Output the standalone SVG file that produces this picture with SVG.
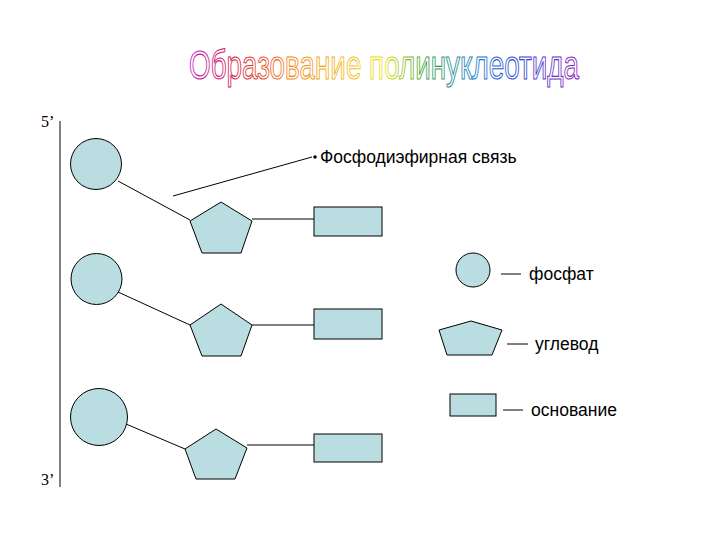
<svg xmlns="http://www.w3.org/2000/svg" width="720" height="540" viewBox="0 0 720 540">
<style>
.shape{fill:#b9dde1;stroke:#000;stroke-width:1}
.ln{stroke:#000;stroke-width:1;fill:none}
.lbl{font-family:"Liberation Sans",Arial,sans-serif;font-size:17.5px;fill:#000}
.end{font-family:"Liberation Serif","Times New Roman",serif;font-size:16px;fill:#000}
.title{font-family:"Liberation Sans",Arial,sans-serif;font-size:40px;fill:#fff;stroke:url(#rainbow);stroke-width:1.1}
</style>
<defs>
<linearGradient id="rainbow" gradientUnits="userSpaceOnUse" x1="189" y1="0" x2="580" y2="0">
<stop offset="0" stop-color="#c020c0"/>
<stop offset="0.12" stop-color="#d02040"/>
<stop offset="0.25" stop-color="#f08020"/>
<stop offset="0.42" stop-color="#f0c020"/>
<stop offset="0.5" stop-color="#e8e020"/>
<stop offset="0.6" stop-color="#40a040"/>
<stop offset="0.72" stop-color="#2080c0"/>
<stop offset="0.85" stop-color="#3040d0"/>
<stop offset="1" stop-color="#9020b0"/>
</linearGradient>
</defs>
<rect width="720" height="540" fill="#fff"/>
<g id="title">
<text class="title" x="189" y="79" textLength="390" lengthAdjust="spacingAndGlyphs">Образование полинуклеотида</text>
</g>
<g id="connectors">
<line class="ln" x1="60" y1="121" x2="60" y2="487"/>
<line class="ln" x1="118" y1="181" x2="190" y2="220"/>
<line class="ln" x1="252" y1="219" x2="314" y2="219"/>
<line class="ln" x1="118" y1="292" x2="190" y2="325"/>
<line class="ln" x1="252" y1="325" x2="314" y2="325"/>
<line class="ln" x1="126" y1="424" x2="185" y2="449"/>
<line class="ln" x1="247" y1="445" x2="314" y2="445"/>
<line class="ln" x1="173" y1="196" x2="312" y2="157"/>
<line class="ln" x1="501" y1="274" x2="521" y2="274"/>
<line class="ln" x1="507" y1="344" x2="528" y2="344"/>
<line class="ln" x1="503" y1="410" x2="523" y2="410"/>
</g>
<g id="label-5"><text class="end" x="41" y="127">5’</text></g>
<g id="label-3"><text class="end" x="41" y="485">3’</text></g>
<g id="phosphate-1"><circle class="shape" cx="96" cy="164" r="25.5"/></g>
<g id="sugar-1"><polygon class="shape" points="221,202 252,221 241,253 202,253 190,221"/></g>
<g id="base-1"><rect class="shape" x="314" y="207" width="68" height="29"/></g>
<g id="phosphate-2"><circle class="shape" cx="96.5" cy="279" r="25.5"/></g>
<g id="sugar-2"><polygon class="shape" points="221,304 252,325 241,356 202,356 190,325"/></g>
<g id="base-2"><rect class="shape" x="314" y="309" width="68" height="30"/></g>
<g id="phosphate-3"><circle class="shape" cx="99" cy="417" r="28.5"/></g>
<g id="sugar-3"><polygon class="shape" points="216,429 247,448 235,479 196,479 185,449"/></g>
<g id="base-3"><rect class="shape" x="314" y="434" width="68" height="28"/></g>
<g id="bond-label">
<circle cx="315" cy="157" r="1.8" fill="#000"/>
<text class="lbl" x="320" y="163">Фосфодиэфирная связь</text>
</g>
<g id="legend-phosphate">
<circle class="shape" cx="473" cy="270" r="17"/>
<text class="lbl" x="529" y="280">фосфат</text>
</g>
<g id="legend-sugar">
<polygon class="shape" points="471,321 502,330 492,355 447,355 439,330"/>
<text class="lbl" x="535" y="350">углевод</text>
</g>
<g id="legend-base">
<rect class="shape" x="450" y="394" width="46" height="22"/>
<text class="lbl" x="531" y="416">основание</text>
</g>
</svg>
